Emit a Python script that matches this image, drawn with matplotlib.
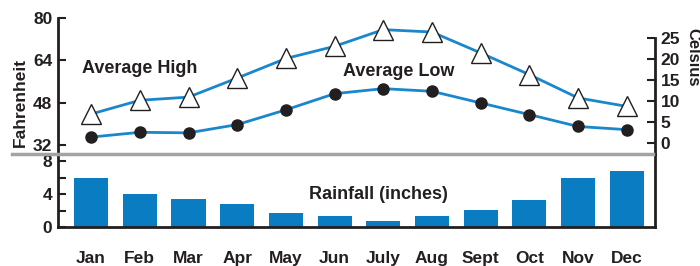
import matplotlib.pyplot as plt
from matplotlib.lines import Line2D
from matplotlib.ticker import FixedLocator

# data
months = ['Jan', 'Feb', 'Mar', 'Apr', 'May', 'Jun', 'July', 'Aug', 'Sept', 'Oct', 'Nov', 'Dec']
avg_high_f = [43.7, 48.9, 50.1, 57.3, 64.7, 69.3, 75.6, 74.7, 66.8, 58.6, 49.8, 46.6]
avg_low_f = [35.0, 36.8, 36.6, 39.7, 45.3, 51.4, 53.3, 52.3, 47.9, 43.5, 39.0, 37.8]
rainfall_in = [5.9, 4.0, 3.45, 2.76, 1.7, 1.3, 0.69, 1.3, 2.03, 3.25, 5.9, 6.78]

fahr_ticks = [32, 48, 64, 80]
cels_ticks = [0, 5, 10, 15, 20, 25]
rain_ticks = [0, 4, 8]

plt.rcParams['font.family'] = ['Liberation Sans', 'DejaVu Sans']
plt.rcParams['font.weight'] = 'bold'
plt.rcParams['axes.labelweight'] = 'bold'

ink = '#231f20'
blue = '#0a7cc2'
line_blue = '#1a87cc'

fig = plt.figure(figsize=(7, 2.66), dpi=100)
x = list(range(len(months)))
xlim = (-0.68, 11.58)

# --- temperatures ---
ax = fig.add_axes([58 / 700, 112 / 266, 597 / 700, 136 / 266])
ax.plot(x, avg_high_f, color=line_blue, linewidth=2, marker='^', markersize=14,
        markerfacecolor='white', markeredgecolor=ink, markeredgewidth=1, zorder=3)
ax.plot(x, avg_low_f, color=line_blue, linewidth=2, marker='o', markersize=8,
        markerfacecolor=ink, markeredgecolor=ink, zorder=3)
ax.set_xlim(*xlim)
ax.set_ylim(28.6, 80)
ax.set_yticks(fahr_ticks)
ax.set_xticks([])
for s in ['top', 'right', 'bottom']:
    ax.spines[s].set_visible(False)
ax.spines['left'].set_color(ink)
ax.spines['left'].set_linewidth(2)
ax.tick_params(axis='y', direction='in', length=6, width=1.5, color=ink,
               labelsize=12.5, labelcolor=ink, pad=4)
ax.set_ylabel('Fahrenheit', fontsize=12.5, color=ink)
ax.yaxis.set_label_coords(-0.051, 0.38)
ax.patch.set_visible(False)

ax.text((82 - 58) / 597, 0.632, 'Average High', transform=ax.transAxes, fontsize=13,
        color=ink, ha='left', va='center')
ax.text((399 - 58) / 597, 0.61, 'Average Low', transform=ax.transAxes, fontsize=13,
        color=ink, ha='center', va='center')

axc = ax.twinx()
axc.set_ylim(-2.76, 29.9)
axc.set_yticks(cels_ticks)
for s in ['top', 'left', 'bottom']:
    axc.spines[s].set_visible(False)
axc.spines['right'].set_bounds(-2.76, 25)
axc.spines['right'].set_color(ink)
axc.spines['right'].set_linewidth(2)
axc.tick_params(axis='y', direction='in', length=6, width=1.5, color=ink,
                labelsize=12.5, labelcolor=ink, pad=4)
axc.set_ylabel('Celsius', fontsize=12, color=ink, rotation=-90, va='center')
axc.yaxis.set_label_coords(1.064, 0.71)

# --- rainfall ---
axb = fig.add_axes([58 / 700, 39 / 266, 597 / 700, 73 / 266])
axb.bar(x, rainfall_in, width=0.7, color=blue)
axb.set_xlim(*xlim)
axb.set_ylim(0, 8.85)
axb.yaxis.set_major_locator(FixedLocator(rain_ticks))
axb.yaxis.set_minor_locator(FixedLocator([2, 6]))
axb.set_xticks(x)
axb.set_xticklabels(months)
axb.spines['top'].set_visible(False)
for s in ['left', 'right', 'bottom']:
    axb.spines[s].set_color(ink)
    axb.spines[s].set_linewidth(2)
axb.tick_params(axis='y', which='both', direction='in', length=6, width=1.5,
                color=ink, labelsize=12.5, labelcolor=ink, pad=4)
axb.tick_params(axis='x', length=0, labelsize=12.5, labelcolor=ink, pad=17)
axb.text((378 - 58) / 597, 0.44, 'Rainfall (inches)', transform=axb.transAxes,
         fontsize=13, color=ink, ha='center', va='center')
axb.patch.set_visible(False)

# gray divider between the panels
fig.add_artist(Line2D([12 / 700, 653 / 700], [112 / 266, 112 / 266],
                      color='#a3a3a3', linewidth=2.5, transform=fig.transFigure))

fig.savefig('out.png', dpi=100)
